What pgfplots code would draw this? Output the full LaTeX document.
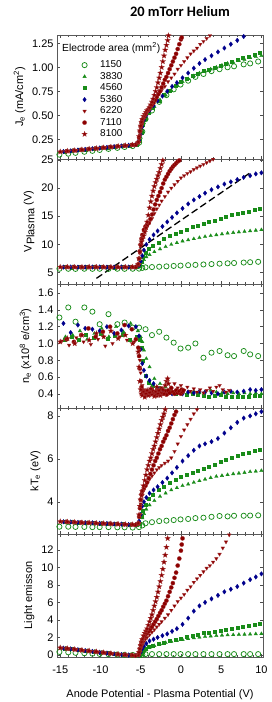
\documentclass[border=0pt]{standalone}
\usepackage{pgfplots}
\usepackage{pgfplotstable}
\pgfplotsset{compat=1.18}
\usepackage{fontspec}
\setmainfont{Liberation Sans}
\newfontfamily\titlefont{Carlito}

\definecolor{cG}{RGB}{25,140,25}
\definecolor{cB}{RGB}{0,0,140}
\definecolor{cR}{RGB}{140,0,0}

\pgfdeclareplotmark{fstar}{%
 \pgfpathmoveto{\pgfpointpolar{90}{\pgfplotmarksize}}%
 \pgfpathlineto{\pgfpointpolar{126}{0.42\pgfplotmarksize}}%
 \pgfpathlineto{\pgfpointpolar{162}{\pgfplotmarksize}}%
 \pgfpathlineto{\pgfpointpolar{198}{0.42\pgfplotmarksize}}%
 \pgfpathlineto{\pgfpointpolar{234}{\pgfplotmarksize}}%
 \pgfpathlineto{\pgfpointpolar{270}{0.42\pgfplotmarksize}}%
 \pgfpathlineto{\pgfpointpolar{306}{\pgfplotmarksize}}%
 \pgfpathlineto{\pgfpointpolar{342}{0.42\pgfplotmarksize}}%
 \pgfpathlineto{\pgfpointpolar{18}{\pgfplotmarksize}}%
 \pgfpathlineto{\pgfpointpolar{54}{0.42\pgfplotmarksize}}%
 \pgfpathclose
 \pgfusepathqfillstroke
}

% 1150 mm^2
\pgfplotstableread{
x J V n T L
-15.1 0.090 5.70 1.31 2.84 0.35
-14.0 0.100 5.70 1.43 2.84 0.30
-13.1 0.109 5.68 1.26 2.83 0.25
-12.0 0.120 5.70 1.43 2.83 0.20
-11.0 0.130 5.69 1.38 2.82 0.15
-10.1 0.139 5.70 1.23 2.82 0.12
-9.0 0.150 5.68 1.35 2.82 0.09
-7.9 0.161 5.70 1.23 2.81 0.05
-7.0 0.170 5.69 1.25 2.81 0.02
-6.0 0.180 5.70 1.19 2.80 0.00
-5.2 0.215 5.72 1.19 2.82 0.00
-4.8 0.330 5.85 nan 2.90 0.05
-4.4 0.460 5.95 1.17 3.00 0.10
-3.6 0.550 6.00 1.10 3.05 0.10
-2.7 0.640 6.06 1.14 3.10 0.10
-1.8 0.710 6.13 1.07 3.12 0.10
-0.9 0.770 6.20 1.01 3.15 0.10
-0.05 0.820 6.26 0.94 3.18 0.10
0.9 0.860 6.33 0.95 3.20 0.10
1.8 0.900 6.39 1.00 3.24 0.10
2.8 0.930 6.46 0.83 3.26 0.10
3.8 0.960 6.53 0.89 3.30 0.10
4.8 0.980 6.60 0.91 3.34 0.10
5.8 1.000 6.67 0.86 3.32 0.10
6.6 1.010 6.72 0.85 3.35 0.10
7.8 1.030 6.80 0.91 3.35 0.10
8.6 1.040 6.86 0.87 3.36 0.10
9.6 1.060 6.93 0.85 3.37 0.10
}\tC

% 3830 mm^2
\pgfplotstableread{
x J V n T L
-14.35 0.125 6.00 1.08 3.07 0.76
-13.45 0.132 6.02 1.10 3.06 0.67
-12.55 0.140 5.98 1.15 3.04 0.58
-11.65 0.147 6.00 1.05 3.03 0.49
-10.75 0.154 6.01 1.12 3.01 0.40
-9.85 0.161 5.99 1.18 3.00 0.30
-8.95 0.168 6.00 1.08 2.98 0.21
-8.05 0.176 6.02 1.20 2.97 0.12
-7.15 0.183 5.99 1.14 2.95 0.04
-6.25 0.190 6.00 1.24 2.94 0.00
-5.35 0.197 6.00 1.15 2.93 -0.06
-5.0 0.27 6.2 1.08 3.00 0.00
-4.8 0.35 6.8 1.02 3.25 0.20
-4.6 0.42 7.3 0.92 3.45 0.40
-4.3 0.48 7.8 0.82 3.65 0.60
-3.9 0.53 8.2 0.72 3.85 0.85
-3.3 0.59 8.7 0.58 4.05 1.05
-2.6 0.66 9.2 0.52 4.25 1.25
-1.9 0.71 9.6 0.48 4.40 1.40
-1.2 0.76 10.0 0.45 4.55 1.55
-0.5 0.81 10.3 0.44 4.65 1.65
0.2 0.85 10.6 0.43 4.75 1.75
0.9 0.88 10.8 0.42 4.82 1.85
1.6 0.91 11.0 0.43 4.90 1.95
2.3 0.94 11.2 0.41 4.98 2.02
3.0 0.96 11.4 0.42 5.05 2.10
3.7 0.98 11.55 0.44 5.12 2.15
4.4 1.00 11.7 0.42 5.18 2.20
5.1 1.02 11.85 0.41 5.22 2.25
5.8 1.04 12.0 0.40 5.26 2.28
6.5 1.05 12.1 0.41 5.30 2.30
7.2 1.07 12.2 0.40 5.33 2.33
7.9 1.08 12.3 0.41 5.36 2.35
8.6 1.10 12.4 0.40 5.40 2.37
9.3 1.11 12.5 0.41 5.42 2.40
10.0 1.12 12.6 0.40 5.45 2.42
}\tB

% 4560 mm^2
\pgfplotstableread{
x J V n T L
-14.5 0.124 6.00 1.05 3.07 0.77
-13.6 0.131 5.98 1.08 3.06 0.68
-12.7 0.138 6.01 1.04 3.04 0.59
-11.8 0.146 6.00 1.10 3.03 0.50
-10.9 0.153 5.99 1.07 3.01 0.41
-10.0 0.160 6.02 1.12 3.00 0.31
-9.1 0.167 6.00 1.06 2.99 0.22
-8.2 0.174 5.98 1.09 2.97 0.13
-7.3 0.182 6.00 1.11 2.96 0.05
-6.4 0.189 6.01 1.05 2.94 0.00
-5.5 0.196 6.00 1.08 2.93 -0.06
-5.1 0.24 6.3 1.05 3.00 -0.05
-4.9 0.32 7.0 0.95 3.30 0.20
-4.7 0.40 7.8 0.80 3.60 0.45
-4.4 0.47 8.5 0.62 3.85 0.70
-4.0 0.53 9.2 0.53 4.15 0.90
-3.5 0.58 9.8 0.50 4.35 1.10
-2.8 0.65 10.4 0.47 4.55 1.30
-2.1 0.71 11.0 0.44 4.72 1.45
-1.4 0.76 11.5 0.42 4.88 1.60
-0.7 0.81 11.9 0.40 5.02 1.75
0.0 0.85 12.3 0.41 5.15 1.90
0.7 0.88 12.7 0.39 5.25 2.05
1.4 0.91 13.1 0.40 5.35 2.20
2.1 0.93 13.4 0.39 5.45 2.35
2.8 0.96 13.7 0.38 5.55 2.50
3.5 0.98 14.0 0.37 5.65 2.60
4.2 1.00 14.3 0.38 5.75 2.70
4.9 1.02 14.6 0.39 5.85 2.80
5.6 1.04 14.9 0.37 5.95 2.90
6.3 1.06 15.2 0.36 6.05 3.00
7.0 1.08 15.4 0.37 6.15 3.10
7.7 1.10 15.7 0.36 6.22 3.20
8.4 1.11 15.9 0.37 6.30 3.30
9.1 1.13 16.1 0.38 6.38 3.45
9.8 1.15 16.4 0.38 6.45 3.60
}\tD

% 5360 mm^2
\pgfplotstableread{
x J V n T L
-14.6 0.123 6.00 1.24 3.07 0.78
-13.7 0.130 6.01 1.13 3.06 0.69
-12.8 0.138 5.99 1.22 3.04 0.60
-11.9 0.145 6.00 1.18 3.03 0.50
-11.0 0.152 6.00 1.17 3.02 0.41
-10.1 0.159 6.02 1.15 3.00 0.31
-9.2 0.166 5.99 1.20 2.99 0.22
-8.3 0.174 6.00 1.12 2.97 0.13
-7.4 0.181 6.01 1.16 2.96 0.05
-6.5 0.188 6.00 1.21 2.94 0.00
-5.6 0.195 6.00 1.20 2.93 -0.06
-5.2 0.24 6.3 1.09 3.10 -0.05
-5.0 0.30 7.0 0.93 3.40 0.30
-4.8 0.38 8.0 0.76 3.80 0.70
-4.6 0.45 9.0 0.68 4.00 1.00
-4.3 0.50 10.0 0.61 4.20 1.30
-3.9 0.55 10.9 0.56 4.40 1.60
-3.4 0.60 11.7 0.52 4.55 1.80
-2.9 0.65 12.4 0.47 4.70 2.00
-2.3 0.70 13.2 0.44 4.90 2.20
-1.7 0.75 14.0 0.42 5.10 2.40
-1.1 0.80 14.8 0.40 5.35 2.70
-0.5 0.84 15.6 0.41 5.60 3.00
0.2 0.89 16.4 0.40 5.90 3.50
0.9 0.94 17.2 0.42 6.15 4.20
1.6 0.99 17.9 0.41 6.40 5.00
2.3 1.04 18.5 0.43 6.60 5.60
3.0 1.08 19.1 0.42 6.70 6.00
3.8 1.12 19.7 0.41 6.80 6.40
4.6 1.16 20.2 0.40 6.95 6.80
5.4 1.20 20.7 0.42 7.20 7.20
6.2 1.24 21.1 0.43 7.45 7.50
7.0 1.28 21.5 0.42 7.70 7.80
7.8 1.32 21.9 0.43 7.90 8.20
8.6 1.36 22.2 0.45 8.00 8.60
9.3 1.40 22.5 0.44 8.10 8.90
10.0 1.44 22.7 0.45 8.20 9.25
}\tE

% 6220 mm^2
\pgfplotstableread{
x J V n T L
-14.8 0.122 6.02 1.03 3.08 0.80
-13.9 0.129 6.00 0.98 3.06 0.71
-13.0 0.136 5.99 1.07 3.05 0.62
-12.1 0.143 6.01 1.02 3.03 0.52
-11.2 0.150 6.00 0.99 3.02 0.43
-10.3 0.158 6.00 1.05 3.00 0.33
-9.4 0.165 6.02 0.97 2.99 0.24
-8.5 0.172 5.99 1.00 2.97 0.15
-7.6 0.179 6.00 1.08 2.96 0.06
-6.7 0.186 6.01 1.04 2.95 0.01
-5.8 0.194 6.00 1.02 2.93 -0.05
-5.2 0.25 6.5 0.92 3.00 -0.05
-5.1 0.29 8.5 0.80 3.40 0.30
-5.0 0.33 10.0 0.65 3.90 0.70
-4.8 0.41 11.0 0.50 4.30 1.10
-4.6 0.47 11.8 0.45 4.55 1.50
-4.4 0.51 12.5 0.42 4.75 1.80
-4.2 0.54 13.1 0.43 4.90 2.00
-3.9 0.58 13.9 0.40 5.05 2.30
-3.6 0.62 14.6 0.45 5.20 2.60
-3.3 0.66 15.5 0.42 5.35 2.90
-3.0 0.70 16.3 0.44 5.50 3.20
-2.7 0.73 17.0 0.41 5.60 3.50
-2.4 0.76 17.7 0.47 5.70 3.80
-2.0 0.80 18.5 0.43 5.80 4.20
-1.6 0.85 19.3 0.40 5.90 4.60
-1.2 0.89 20.0 0.45 6.05 5.10
-0.8 0.93 20.6 0.52 6.35 5.60
-0.4 0.98 21.2 0.47 6.70 6.10
0.0 1.02 21.8 0.50 7.05 6.50
0.4 1.06 22.2 0.44 7.35 6.90
0.8 1.10 22.6 0.48 7.60 7.40
1.2 1.14 22.9 0.43 7.85 7.80
1.6 1.17 23.3 0.46 8.10 8.30
2.0 1.20 23.6 0.42 8.30 8.70
2.4 1.24 23.9 0.45 8.50 9.10
2.8 1.27 24.2 0.41 8.70 9.50
3.2 1.30 24.5 0.44 8.90 9.90
3.6 1.33 24.8 0.47 9.10 10.20
4.0 1.37 25.1 0.43 9.30 10.60
4.4 1.40 25.4 0.48 9.50 11.00
4.8 1.43 25.7 0.50 9.70 11.50
5.2 1.46 26.0 0.45 9.90 12.20
5.6 1.49 26.3 0.42 10.1 12.90
6.0 1.52 26.6 0.44 10.3 13.70
}\tF

% 7110 mm^2
\pgfplotstableread{
x J V n T L
-14.2 0.126 6.00 1.05 3.07 0.74
-13.3 0.134 6.02 1.02 3.05 0.65
-12.4 0.141 5.99 1.10 3.04 0.56
-11.5 0.148 6.00 1.18 3.02 0.47
-10.6 0.155 6.01 1.08 3.01 0.37
-9.7 0.162 6.00 1.14 2.99 0.28
-8.8 0.170 5.99 1.20 2.98 0.19
-7.9 0.177 6.01 1.12 2.97 0.10
-7.0 0.184 6.00 1.22 2.95 0.03
-6.1 0.191 6.00 1.17 2.94 -0.02
-5.6 0.195 6.02 1.05 2.93 -0.06
-5.3 0.22 6.5 0.95 3.00 0.00
-5.2 0.27 7.5 0.85 3.30 0.30
-5.1 0.33 8.8 0.70 3.70 0.70
-5.0 0.38 10.0 0.55 4.10 1.10
-4.9 0.42 11.0 0.48 4.35 1.40
-4.8 0.45 11.7 0.44 4.50 1.70
-4.6 0.48 12.6 0.42 4.65 2.00
-4.4 0.51 13.2 0.40 4.75 2.30
-4.2 0.54 13.5 0.43 4.90 2.50
-4.0 0.56 13.8 0.39 5.10 2.70
-3.8 0.59 14.5 0.41 5.30 2.95
-3.6 0.61 15.3 0.45 5.50 3.20
-3.4 0.63 16.2 0.40 5.70 3.50
-3.2 0.66 17.1 0.42 5.90 3.80
-3.0 0.69 17.9 0.38 6.05 4.10
-2.8 0.72 18.6 0.44 6.25 4.45
-2.6 0.75 19.3 0.41 6.45 4.80
-2.4 0.79 20.0 0.46 6.60 5.10
-2.2 0.83 20.8 0.40 6.80 5.50
-2.0 0.87 21.5 0.43 6.95 5.85
-1.8 0.90 22.0 0.39 7.10 6.20
-1.6 0.94 22.5 0.44 7.30 6.70
-1.4 0.98 23.0 0.41 7.45 7.20
-1.2 1.02 23.4 0.47 7.65 7.70
-1.0 1.06 23.8 0.42 7.85 8.20
-0.8 1.10 24.1 0.40 8.05 8.80
-0.6 1.14 24.4 0.44 8.20 9.40
-0.4 1.19 24.7 0.41 8.40 10.20
-0.2 1.24 24.9 0.43 8.60 11.00
0.0 1.29 25.2 0.40 8.80 11.90
0.1 1.31 25.4 0.45 8.90 12.60
0.2 1.34 25.6 0.42 9.00 13.30
0.3 1.37 25.8 0.44 9.10 14.00
}\tG

% 8100 mm^2
\pgfplotstableread{
x J V n T L
-15.0 0.120 6.00 1.02 3.08 0.82
-14.1 0.127 6.01 1.06 3.06 0.73
-13.2 0.134 5.99 1.00 3.05 0.64
-12.3 0.142 6.00 1.10 3.03 0.55
-11.4 0.149 6.02 1.04 3.02 0.46
-10.5 0.156 6.00 1.12 3.00 0.37
-9.6 0.163 5.99 1.08 2.99 0.28
-8.7 0.170 6.01 1.15 2.98 0.18
-7.8 0.178 6.00 1.06 2.96 0.08
-6.9 0.185 6.00 1.10 2.95 0.02
-6.0 0.192 6.01 1.00 2.94 -0.04
-5.3 0.22 6.5 0.90 3.00 0.00
-5.2 0.28 7.5 0.72 3.40 0.30
-5.1 0.34 8.7 0.55 3.80 0.70
-5.0 0.39 9.8 0.45 4.10 1.10
-4.9 0.43 10.5 0.40 4.30 1.50
-4.8 0.46 11.0 0.38 4.50 1.80
-4.65 0.49 11.5 0.42 4.75 2.20
-4.5 0.51 12.2 0.36 5.00 2.50
-4.35 0.53 13.0 0.40 5.25 2.75
-4.2 0.55 14.0 0.44 5.50 3.00
-4.05 0.56 15.2 0.38 5.70 3.40
-3.9 0.58 16.5 0.41 5.90 3.80
-3.75 0.61 17.6 0.46 6.05 4.20
-3.6 0.64 18.6 0.39 6.25 4.60
-3.45 0.67 19.5 0.43 6.45 5.10
-3.3 0.71 20.3 0.37 6.60 5.60
-3.15 0.75 21.0 0.42 6.80 6.10
-3.0 0.79 21.6 0.48 7.00 6.60
-2.85 0.84 22.2 0.40 7.20 7.20
-2.7 0.89 22.8 0.44 7.40 7.80
-2.55 0.94 23.5 0.38 7.60 8.40
-2.4 1.00 24.2 0.41 7.80 9.10
-2.25 1.06 24.9 0.45 7.95 9.80
-2.1 1.12 25.6 0.40 8.10 10.60
-1.95 1.18 26.3 0.50 8.30 11.40
-1.8 1.23 27.0 0.55 8.45 12.30
-1.65 1.28 27.7 0.58 8.60 13.30
-1.55 1.33 28.2 0.52 8.70 14.00
}\tH

\pgfplotsset{
 sC/.style={only marks, mark=o, mark size=2.6bp, mark options={draw=cG, line width=0.75bp}},
 sB/.style={only marks, mark=triangle*, mark size=2.0bp, mark options={draw=cG, fill=cG, line width=0.3bp}},
 sD/.style={only marks, mark=square*, mark size=1.5bp, mark options={draw=cG, fill=cG, line width=0.3bp}},
 sE/.style={only marks, mark=diamond*, mark size=2.3bp, mark options={draw=cB, fill=cB, line width=0.3bp}},
 sF/.style={only marks, mark=triangle*, mark size=2.1bp, mark options={draw=cR!80, fill=cR, rotate=180, line width=0.3bp}},
 sG/.style={only marks, mark=*, mark size=2.1bp, mark options={draw=cR!80, fill=cR, line width=0.3bp}},
 sH/.style={only marks, mark=fstar, mark size=2.8bp, mark options={draw=cR!80, fill=cR, line width=0.3bp}},
 panel/.style={
   width=206bp, scale only axis, anchor=south west,
   xmin=-15.4, xmax=10.2, xtick={-15,-10,...,10}, minor x tick num=4,
   tick align=inside,
   /pgf/number format/assume math mode=true,
   ticklabel style={font=\fontsize{11}{13}\selectfont},
   label style={font=\fontsize{11}{13}\selectfont},
   axis line style={black!65, line width=0.9bp},
   tick style={black!70, line width=0.5bp},
   major tick length=3bp, minor tick length=1.8bp,
   clip=true,
 },
}

\newcommand{\plotall}[1]{%
 \addplot[sC] table[x=x,y=#1]{\tC};
 \addplot[sB] table[x=x,y=#1]{\tB};
 \addplot[sD] table[x=x,y=#1]{\tD};
 \addplot[sE] table[x=x,y=#1]{\tE};
 \addplot[sF] table[x=x,y=#1]{\tF};
 \addplot[sG] table[x=x,y=#1]{\tG};
 \addplot[sH] table[x=x,y=#1]{\tH};
}

\begin{document}
\begin{tikzpicture}
\useasboundingbox (0,0) rectangle (272bp,702bp);

% Panel 1: Je
\begin{axis}[panel, at={(57bp,543bp)}, height=124bp,
  ymin=0.045, ymax=1.336, ytick={0.25,0.5,0.75,1,1.25},
  yticklabel style={/pgf/number format/.cd, fixed, fixed zerofill, precision=2},
  xticklabels=\empty,
  ylabel={J\textsubscript{e} (mA/cm\textsuperscript{2})},
  legend style={at={(0.12,0.795)}, anchor=north west, draw=none, fill=none,
    font=\fontsize{10}{11}\selectfont, row sep=2.5bp, inner sep=0pt,
    nodes={inner sep=0pt, text height=7bp, text depth=2bp},
    /tikz/every odd column/.append style={column sep=13bp}},
  legend cell align=left,
]
\plotall{J}
\legend{1150,3830,4560,5360,6220,7110,8100}
\end{axis}
\node[anchor=west, font=\fontsize{10.3}{11}\selectfont, inner sep=0pt] at (62bp,654bp) {Electrode area (mm\textsuperscript{2})};

% Panel 2: Vplasma
\begin{axis}[panel, at={(57bp,418bp)}, height=125bp,
  ymin=3, ymax=25.15, ytick={5,10,...,25},
  xticklabels=\empty,
  ylabel={V\raisebox{-0.45ex}{Plasma} (V)},
]
\plotall{V}
\addplot[black, line width=1.3bp, dash pattern=on 7bp off 3.5bp] coordinates {(-10.5,4.0) (8.7,22.8)};
\end{axis}

% Panel 3: ne
\begin{axis}[panel, at={(57bp,294bp)}, height=124bp,
  ymin=0.23, ymax=1.71, ytick={0.4,0.6,...,1.6},
  yticklabel style={/pgf/number format/.cd, fixed, fixed zerofill, precision=1},
  xticklabels=\empty,
  ylabel={n\textsubscript{e} (x10\textsuperscript{8} e/cm\textsuperscript{3})},
]
\plotall{n}
\end{axis}

% Panel 4: kTe
\begin{axis}[panel, at={(57bp,168bp)}, height=126bp,
  ymin=2.5, ymax=8.37, ytick={4,6,8},
  xticklabels=\empty,
  ylabel={kT\textsubscript{e} (eV)},
]
\plotall{T}
\end{axis}

% Panel 5: Light emission
\begin{axis}[panel, at={(57bp,45bp)}, height=123bp,
  ymin=-0.23, ymax=13.8, ytick={0,2,...,12},
  ylabel={Light emisson},
  xticklabel style={yshift=-5bp},
  xlabel={Anode Potential - Plasma Potential (V)},
  xlabel style={yshift=-9bp},
]
\plotall{L}
\end{axis}

\node[font=\titlefont\bfseries\fontsize{14.5}{16}\selectfont] at (180bp,691bp) {20 mTorr Helium};
\end{tikzpicture}
\end{document}
